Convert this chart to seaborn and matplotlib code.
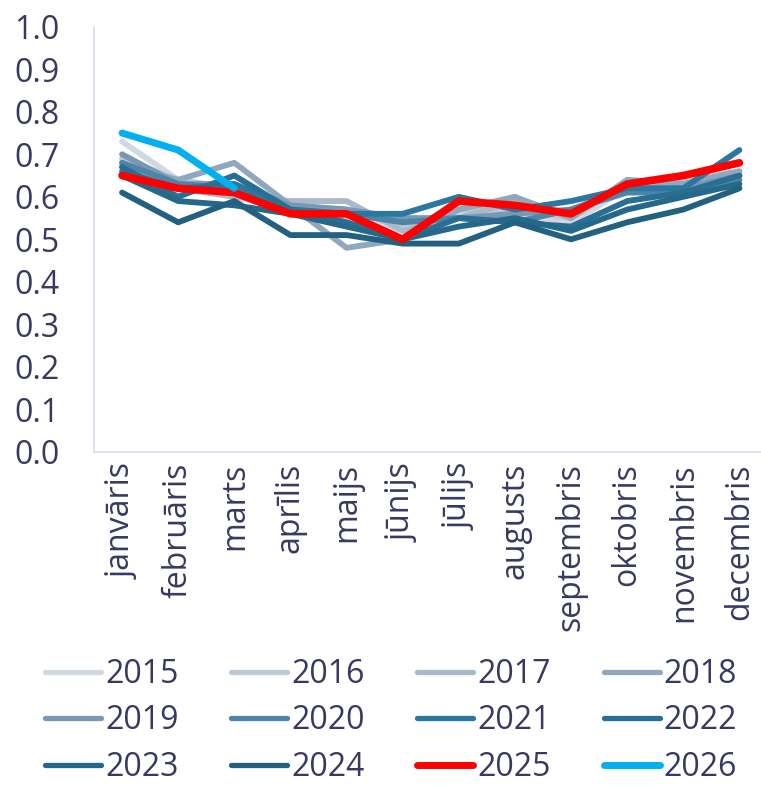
import matplotlib
matplotlib.use("Agg")
import matplotlib.pyplot as plt
import seaborn as sns
import numpy as np
import pandas as pd

months = ["janvāris", "februāris", "marts", "aprīlis", "maijs", "jūnijs",
          "jūlijs", "augusts", "septembris", "oktobris", "novembris", "decembris"]
years = ["2015", "2016", "2017", "2018", "2019", "2020",
         "2021", "2022", "2023", "2024", "2025", "2026"]

v2015 = [0.73, 0.64, 0.60, 0.57, 0.55, 0.52, 0.56, 0.56, 0.54, 0.62, 0.63, 0.66]
v2016 = [0.69, 0.64, 0.62, 0.58, 0.57, 0.53, 0.57, 0.57, 0.55, 0.63, 0.64, 0.66]
v2017 = [0.68, 0.62, 0.60, 0.59, 0.59, 0.52, 0.55, 0.59, 0.56, 0.63, 0.62, 0.65]
v2018 = [0.67, 0.64, 0.68, 0.58, 0.48, 0.50, 0.57, 0.60, 0.55, 0.64, 0.63, 0.66]
v2019 = [0.70, 0.63, 0.63, 0.58, 0.57, 0.55, 0.55, 0.56, 0.57, 0.62, 0.62, 0.65]
v2020 = [0.68, 0.63, 0.62, 0.57, 0.56, 0.54, 0.55, 0.54, 0.57, 0.61, 0.61, 0.64]
v2021 = [0.66, 0.62, 0.63, 0.57, 0.56, 0.56, 0.60, 0.57, 0.59, 0.62, 0.62, 0.71]
v2022 = [0.67, 0.60, 0.65, 0.57, 0.54, 0.50, 0.55, 0.54, 0.53, 0.59, 0.61, 0.65]
v2023 = [0.65, 0.59, 0.58, 0.56, 0.53, 0.50, 0.53, 0.55, 0.52, 0.57, 0.60, 0.63]
v2024 = [0.61, 0.54, 0.59, 0.51, 0.51, 0.49, 0.49, 0.54, 0.50, 0.54, 0.57, 0.62]
v2025 = [0.65, 0.62, 0.61, 0.56, 0.56, 0.50, 0.59, 0.58, 0.56, 0.63, 0.65, 0.68]
v2026 = [0.75, 0.71, 0.62] + [np.nan] * 9

series = [v2015, v2016, v2017, v2018, v2019, v2020,
          v2021, v2022, v2023, v2024, v2025, v2026]

colors = ["#d0d9e2", "#bcc9d6", "#a7b9cb", "#8fa8be", "#7898b3", "#4d85a8",
          "#2a77a0", "#286f93", "#25698a", "#226180", "#ff0000", "#00b0f0"]

rows = []
for y, vals in zip(years, series):
    for i, v in enumerate(vals):
        rows.append({"year": y, "m": i, "value": v})
df = pd.DataFrame(rows).dropna()

sns.set_style("white")
plt.rcParams["font.family"] = ["Open Sans", "DejaVu Sans"]
text_color = "#383862"
fs = 23

fig = plt.figure(figsize=(7.61, 7.86), dpi=100)
ax = fig.add_axes([0.1235, 0.425, 0.885, 0.541])

sns.lineplot(data=df, x="m", y="value", hue="year", hue_order=years,
             palette=dict(zip(years, colors)), linewidth=4.2, ax=ax,
             legend=False, solid_capstyle="round")
for line, y in zip(ax.lines, years):
    if y == "2025":
        line.set_linewidth(5.5)
    elif y == "2026":
        line.set_linewidth(5.0)

ax.set_xlim(-0.5, 11.5)
ax.set_ylim(0, 1.0)
ax.set_yticks(np.arange(0, 1.01, 0.1))
ax.set_yticklabels([f"{t:.1f}" for t in np.arange(0, 1.01, 0.1)])
ax.set_xticks(range(12))
ax.set_xticklabels(months, rotation=90)
ax.tick_params(axis="both", length=0, labelsize=fs, colors=text_color)
ax.tick_params(axis="y", pad=25)
ax.tick_params(axis="x", pad=8)
ax.set_xlabel("")
ax.set_ylabel("")
for s in ["top", "right"]:
    ax.spines[s].set_visible(False)
for s in ["left", "bottom"]:
    ax.spines[s].set_color("#d9d9ee")
    ax.spines[s].set_linewidth(1.2)

# legend filled row by row, like the original
order = [0, 4, 8, 1, 5, 9, 2, 6, 10, 3, 7, 11]
handles = [plt.Line2D([], [], color=colors[i], linewidth=(5.0 if years[i] in ("2025", "2026") else 3.8),
                      solid_capstyle="round") for i in order]
labels = [years[i] for i in order]
leg = fig.legend(handles, labels, loc="upper left", bbox_to_anchor=(0.059, 0.163),
                 ncol=4, frameon=False, fontsize=fs, handlelength=1.75,
                 handletextpad=0.13, columnspacing=1.65, labelspacing=0.42,
                 borderaxespad=0, borderpad=0)
for t in leg.get_texts():
    t.set_color(text_color)

fig.savefig("out.png", dpi=100)
